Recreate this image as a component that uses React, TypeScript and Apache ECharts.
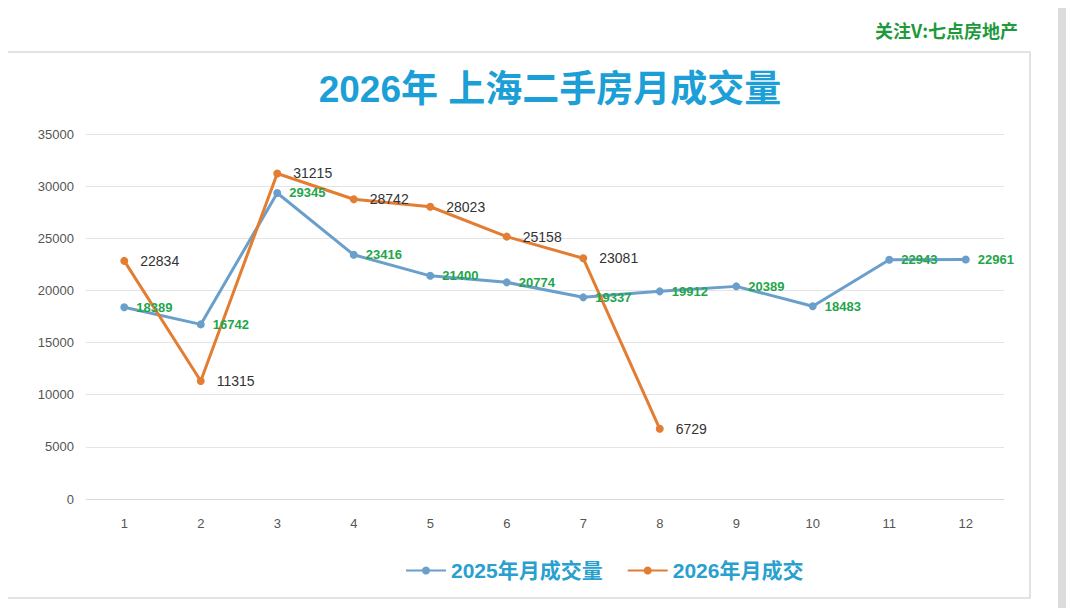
import React, { useEffect, useRef } from "react";
import * as echarts from "echarts";

const months = ["1", "2", "3", "4", "5", "6", "7", "8", "9", "10", "11", "12"];
const sales2025 = [18389, 16742, 29345, 23416, 21400, 20774, 19337, 19912, 20389, 18483, 22943, 22961];
const sales2026 = [22834, 11315, 31215, 28742, 28023, 25158, 23081, 6729];

const App: React.FC = () => {
  const chartRef = useRef<HTMLDivElement | null>(null);

  useEffect(() => {
    if (!chartRef.current) return;
    const chart = echarts.init(chartRef.current, null, { renderer: "svg" });
    chart.setOption({
      animation: false,
      backgroundColor: "#fff",
      textStyle: { fontFamily: "Liberation Sans, Arial, Noto Sans CJK SC, sans-serif" },
      graphic: [
        { type: "rect", shape: { x: 3, y: 52, width: 1027, height: 546 }, style: { fill: "#fff", stroke: "#e2e2e2", lineWidth: 2 }, z: -10 },
        { type: "rect", shape: { x: 1058, y: 0, width: 8, height: 616 }, style: { fill: "#dcdcdc" }, z: -10 },
        { type: "line", shape: { x1: 1, y1: 0, x2: 1, y2: 52 }, style: { stroke: "#e2e2e2", lineWidth: 2 } },
        {
          type: "text", right: 62, top: 21,
          style: { text: "关注V:七点房地产", fill: "#1e9a3c", font: "bold 18px 'Noto Sans CJK SC', sans-serif" },
        },
      ],
      title: {
        text: "2026年 上海二手房月成交量",
        left: 545,
        textAlign: "center",
        top: 66,
        textStyle: { color: "#1c9fd6", fontSize: 37, fontWeight: "bold", fontFamily: "Liberation Sans, Noto Sans CJK SC, sans-serif" },
      },
      legend: {
        bottom: 30,
        left: 400,
        itemWidth: 40,
        itemHeight: 10,
        itemGap: 24,
        textStyle: { color: "#2aa0cf", fontSize: 21, fontWeight: "bold", fontFamily: "Liberation Sans, Noto Sans CJK SC, sans-serif" },
      },
      grid: { left: 86, right: 76, top: 134, bottom: 117 },
      xAxis: {
        type: "category",
        data: months,
        axisLine: { lineStyle: { color: "#d9d9d9" } },
        axisTick: { show: false },
        axisLabel: { color: "#555", fontSize: 13, margin: 18 },
      },
      yAxis: {
        type: "value",
        min: 0,
        max: 35000,
        interval: 5000,
        axisLine: { show: false },
        axisTick: { show: false },
        axisLabel: { color: "#555", fontSize: 13, margin: 12, formatter: (v: number) => String(v) },
        splitLine: { lineStyle: { color: "#e4e4e4" } },
      },
      series: [
        {
          name: "2025年月成交量",
          type: "line",
          data: sales2025,
          symbol: "circle",
          symbolSize: 8,
          itemStyle: { color: "#6a9fcb" },
          lineStyle: { color: "#6a9fcb", width: 3 },
          label: { show: true, position: "right", distance: 8, color: "#1fa64a", fontSize: 13, fontWeight: "bold" },
        },
        {
          name: "2026年月成交",
          type: "line",
          data: sales2026,
          symbol: "circle",
          symbolSize: 8,
          itemStyle: { color: "#e27d32" },
          lineStyle: { color: "#e27d32", width: 3 },
          label: { show: true, position: "right", distance: 12, color: "#333", fontSize: 14 },
        },
      ],
    });
    return () => chart.dispose();
  }, []);

  return <div ref={chartRef} style={{ width: 1080, height: 616, margin: -8 }} />;
};

export default App;
